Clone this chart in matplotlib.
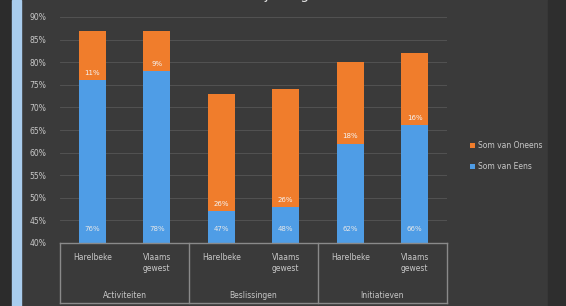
import matplotlib
matplotlib.use("Agg")
import matplotlib.pyplot as plt
from matplotlib.patches import Rectangle
from matplotlib.ticker import FuncFormatter, MultipleLocator

# data
groups = ["Activiteiten", "Beslissingen", "Initiatieven"]
regions = ["Harelbeke", "Vlaams\ngewest"]
eens = [76, 78, 47, 48, 62, 66]
oneens = [11, 9, 26, 26, 18, 16]

BLUE = "#4f9de6"
ORANGE = "#f07d2c"
BG = "#3a3a3a"
TXT = "#c8c8c8"

W, H = 566, 306
fig = plt.figure(figsize=(W / 100, H / 100), dpi=100, facecolor=BG)

# left strip and darker edges
fig.patches.append(Rectangle((0, 0), 12 / W, 1, transform=fig.transFigure,
                             color="#2c2c2c", zorder=0))
fig.patches.append(Rectangle((12 / W, 0), 9 / W, 1, transform=fig.transFigure,
                             color="#a9cdee", zorder=0))
fig.patches.append(Rectangle((548 / W, 0), 18 / W, 1, transform=fig.transFigure,
                             color="#2e2e2e", zorder=0))

left, right = 60 / W, 447 / W
bottom, top = (H - 243) / H, (H - 17) / H
ax = fig.add_axes([left, bottom, right - left, top - bottom])
ax.set_facecolor(BG)

x = list(range(len(eens)))
width = 0.42
b1 = ax.bar(x, eens, width, color=BLUE, label="Som van Eens", zorder=2)
b2 = ax.bar(x, oneens, width, bottom=eens, color=ORANGE, label="Som van Oneens", zorder=2)

ax.set_ylim(40, 90)
ax.set_xlim(-0.5, len(eens) - 0.5)
ax.yaxis.set_major_locator(MultipleLocator(5))
ax.yaxis.set_major_formatter(FuncFormatter(lambda v, p: f"{v:.0f}%"))
ax.tick_params(axis="y", length=0, labelsize=5.5, labelcolor=TXT, pad=10)
ax.set_xticks([])
ax.grid(axis="y", color="#525252", linewidth=0.7, zorder=0)
for s in ax.spines.values():
    s.set_visible(False)

# value labels, inside base
for i, (e, o) in enumerate(zip(eens, oneens)):
    ax.annotate(f"{e}%", xy=(i, 40), xytext=(0, 8), textcoords="offset points",
                ha="center", va="bottom", fontsize=5, color="#e8e8e8", zorder=3)
    ax.annotate(f"{o}%", xy=(i, e), xytext=(0, 3), textcoords="offset points",
                ha="center", va="bottom", fontsize=5, color="#f4f4f4", zorder=3)

# multi-level category axis
lc = "#8a8a8a"
tr = ax.get_xaxis_transform()
y0 = 0.0
y1 = -(303 - 243) / (243 - 17)
ax.plot([-0.5, 5.5], [y0, y0], transform=tr, color=lc, lw=1, clip_on=False)
ax.plot([-0.5, 5.5], [y1, y1], transform=tr, color=lc, lw=1, clip_on=False)
for xb in [-0.5, 1.5, 3.5, 5.5]:
    ax.plot([xb, xb], [y0, y1], transform=tr, color=lc, lw=1, clip_on=False)
for g, name in enumerate(groups):
    for r, reg in enumerate(regions):
        ax.text(2 * g + r, -0.045, reg, transform=tr, ha="center", va="top",
                fontsize=5.5, color=TXT, linespacing=1.3)
    ax.text(2 * g + 0.5, y1 + 0.012, name, transform=tr, ha="center", va="bottom",
            fontsize=5.5, color=TXT)

handles = [b2, b1]
leg = fig.legend(handles, ["Som van Oneens", "Som van Eens"], loc="center left",
                 bbox_to_anchor=(463 / W, (H - 156) / H), frameon=False,
                 fontsize=5.5, labelcolor=TXT, handlelength=0.7, handleheight=0.7,
                 handletextpad=0.4, labelspacing=1.6)

# title, cut by the top edge as in the source screenshot (only descenders show)
fig.text(280 / W, (H + 1) / H, "Betrokkenheid bij het gemeentebeleid", ha="center",
         va="baseline", fontsize=10, color="#e0e0e0")

fig.savefig("out.png", dpi=100, facecolor=BG)
